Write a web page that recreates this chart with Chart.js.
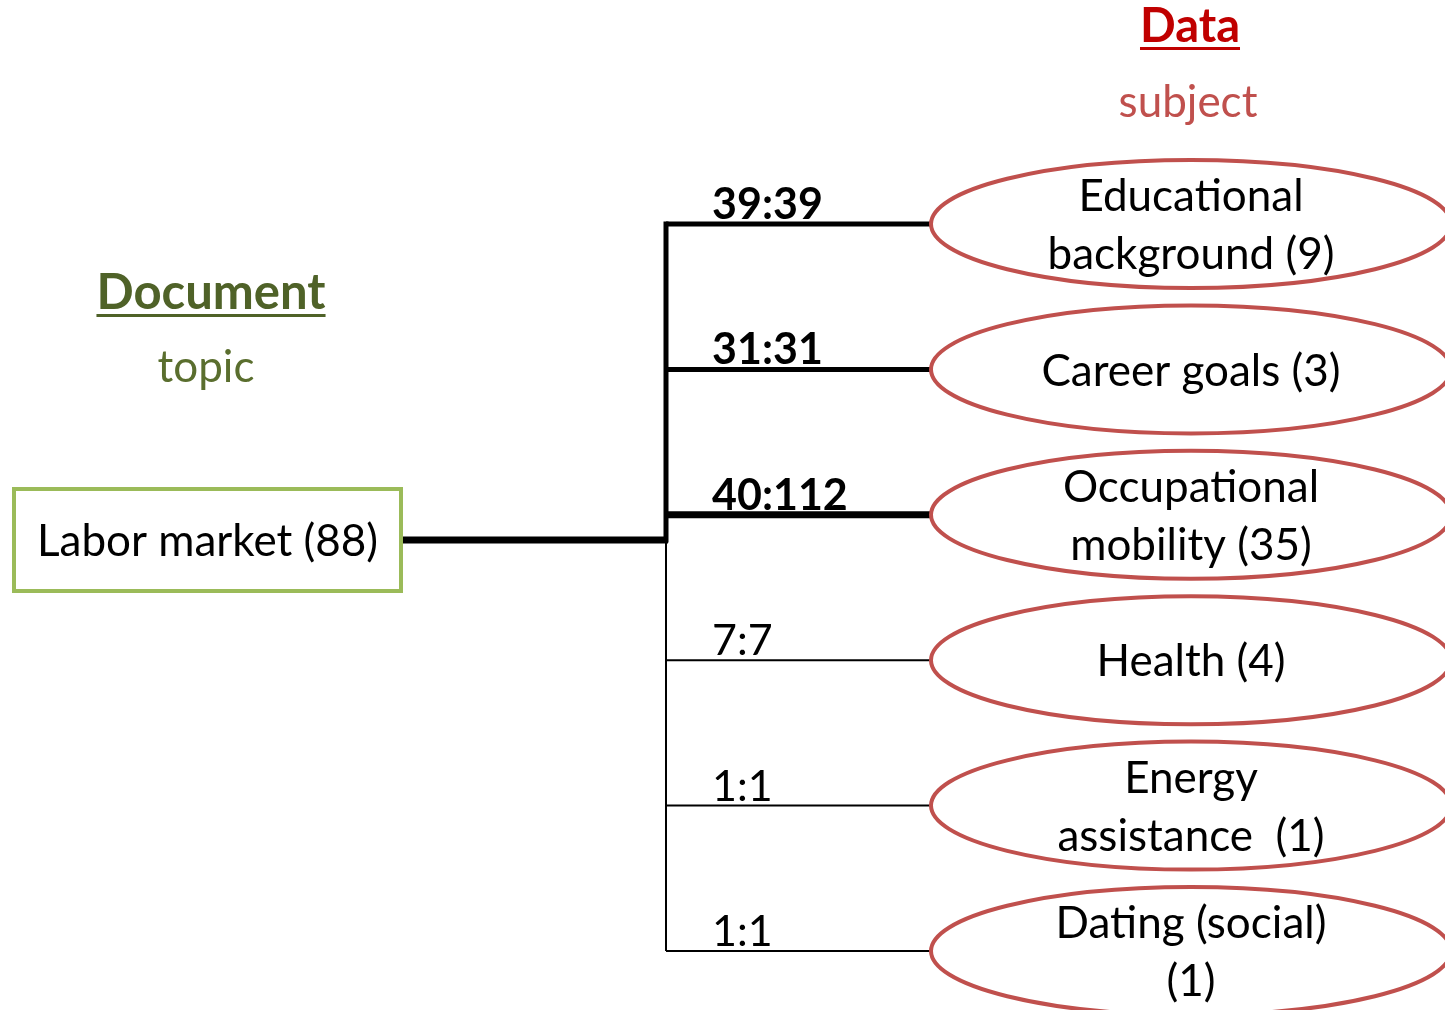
<!DOCTYPE html>
<html>
<head>
<meta charset="utf-8">
<script src="https://cdn.jsdelivr.net/npm/chart.js@4/dist/chart.umd.min.js"></script>
<style>
  html, body { margin: 0; padding: 0; background: #ffffff; }
  #wrap { width: 1445px; height: 1010px; position: relative; }
</style>
</head>
<body>
<div id="wrap"><canvas id="c"></canvas></div>
<script>
// ---- data ----
const topicName = 'Labor market';
const topicCount = 88;
const subjectLines = [
  ['Educational', 'background'],
  ['Career goals'],
  ['Occupational', 'mobility'],
  ['Health'],
  ['Energy', 'assistance '],
  ['Dating (social)', '']
];
const subjectCounts = [9, 3, 35, 4, 1, 1];
const linkFrom = [39, 31, 40, 7, 1, 1];
const linkTo = [39, 31, 112, 7, 1, 1];
const headings = { left: ['Document', 'topic'], right: ['Data', 'subject'] };

// ---- layout (not data) ----
const FONT = 'Lato, "Open Sans", sans-serif';
const L = {
  boxL: 14, boxR: 401, boxHalfH: 51,
  junctionX: 666, ellL: 931, ellCx: 1191, ellRx: 260, ellRy: 64,
  topicRow: 2.173, labelX: 712
};
const rowCount = subjectCounts.length;

function linkWidth(i) {
  if (linkTo[i] > 100) return 7;
  if (linkFrom[i] >= 30) return 5;
  return 2;
}
function subjectText(i) {
  const lines = subjectLines[i].slice();
  const last = lines.length - 1;
  lines[last] = (lines[last] + ' (' + subjectCounts[i] + ')').trim();
  return lines;
}

const datasets = [];
// link lines: junction -> subject ellipse
for (let i = 0; i < rowCount; i++) {
  datasets.push({
    data: [{ x: L.junctionX, y: i }, { x: L.ellL, y: i }],
    borderColor: '#000', borderWidth: linkWidth(i), showLine: true,
    pointRadius: 0, borderCapStyle: 'butt'
  });
}
// trunk (thick part to strong links, thin part to weak)
datasets.push({
  data: [{ x: L.junctionX, y: 0 }, { x: L.junctionX, y: L.topicRow }],
  borderColor: '#000', borderWidth: 5, showLine: true, pointRadius: 0, borderCapStyle: 'square'
});
datasets.push({
  data: [{ x: L.junctionX, y: L.topicRow }, { x: L.junctionX, y: rowCount - 1 }],
  borderColor: '#000', borderWidth: 2, showLine: true, pointRadius: 0, borderCapStyle: 'butt'
});
// topic connector
datasets.push({
  data: [{ x: L.boxR, y: L.topicRow }, { x: L.junctionX + 2, y: L.topicRow }],
  borderColor: '#000', borderWidth: 7, showLine: true, pointRadius: 0, borderCapStyle: 'butt'
});

function underlineText(ctx, text, cx, baseY) {
  const w = ctx.measureText(text).width;
  ctx.fillText(text, cx, baseY);
  ctx.fillRect(cx - w / 2, baseY + 5, w, 3);
}

const decor = {
  id: 'decor',
  afterDatasetsDraw(chart) {
    const { ctx, scales: { x, y } } = chart;
    ctx.save();
    // subject ellipses
    for (let i = 0; i < rowCount; i++) {
      const cx = x.getPixelForValue(L.ellCx);
      const cy = y.getPixelForValue(i);
      ctx.beginPath();
      ctx.ellipse(cx, cy, L.ellRx, L.ellRy, 0, 0, Math.PI * 2);
      ctx.fillStyle = '#fff';
      ctx.fill();
      ctx.lineWidth = 4;
      ctx.strokeStyle = '#C0504D';
      ctx.stroke();
      const lines = subjectText(i);
      ctx.fillStyle = '#000';
      ctx.font = '44px ' + FONT;
      ctx.textAlign = 'center';
      ctx.textBaseline = 'middle';
      if (lines.length === 1) {
        ctx.fillText(lines[0], cx, cy + 2);
      } else {
        ctx.fillText(lines[0], cx, cy - 27);
        ctx.fillText(lines[1], cx, cy + 31);
      }
      // link label
      ctx.textAlign = 'left';
      ctx.textBaseline = 'alphabetic';
      ctx.font = (linkFrom[i] >= 30 ? 'bold ' : '') + '43px ' + FONT;
      ctx.fillText(linkFrom[i] + ':' + linkTo[i], x.getPixelForValue(L.labelX), y.getPixelForValue(i) - 5);
    }
    // topic box
    const ty = y.getPixelForValue(L.topicRow);
    const bl = x.getPixelForValue(L.boxL), br = x.getPixelForValue(L.boxR);
    ctx.lineWidth = 4;
    ctx.strokeStyle = '#9BBB59';
    ctx.fillStyle = '#fff';
    ctx.beginPath();
    ctx.rect(bl, ty - L.boxHalfH, br - bl, L.boxHalfH * 2);
    ctx.fill();
    ctx.stroke();
    ctx.fillStyle = '#000';
    ctx.font = '44px ' + FONT;
    ctx.textAlign = 'center';
    ctx.textBaseline = 'middle';
    ctx.fillText(topicName + ' (' + topicCount + ')', (bl + br) / 2, ty + 2);
    // headings
    ctx.textBaseline = 'alphabetic';
    ctx.font = 'bold 49px ' + FONT;
    ctx.fillStyle = '#4F6228';
    underlineText(ctx, headings.left[0], 211, 309);
    ctx.font = '44px ' + FONT;
    ctx.fillStyle = '#5A6E2E';
    ctx.fillText(headings.left[1], 206, 382);
    ctx.font = 'bold 47px ' + FONT;
    ctx.fillStyle = '#C00000';
    underlineText(ctx, headings.right[0], 1190, 42);
    ctx.font = '44px ' + FONT;
    ctx.fillStyle = '#C0504D';
    ctx.fillText(headings.right[1], 1188, 117);
    ctx.restore();
  }
};

const rowPx0 = 224, rowStep = 145.4, H = 1010;
new Chart(document.getElementById('c'), {
  type: 'scatter',
  data: { datasets },
  options: {
    responsive: true, maintainAspectRatio: false, animation: false,
    layout: { padding: 0 },
    plugins: { legend: { display: false }, tooltip: { enabled: false } },
    scales: {
      x: { type: 'linear', display: false, min: 0, max: 1445 },
      y: { type: 'linear', display: false, reverse: true,
           min: -rowPx0 / rowStep, max: (H - rowPx0) / rowStep }
    }
  },
  plugins: [decor]
});
</script>
</body>
</html>
